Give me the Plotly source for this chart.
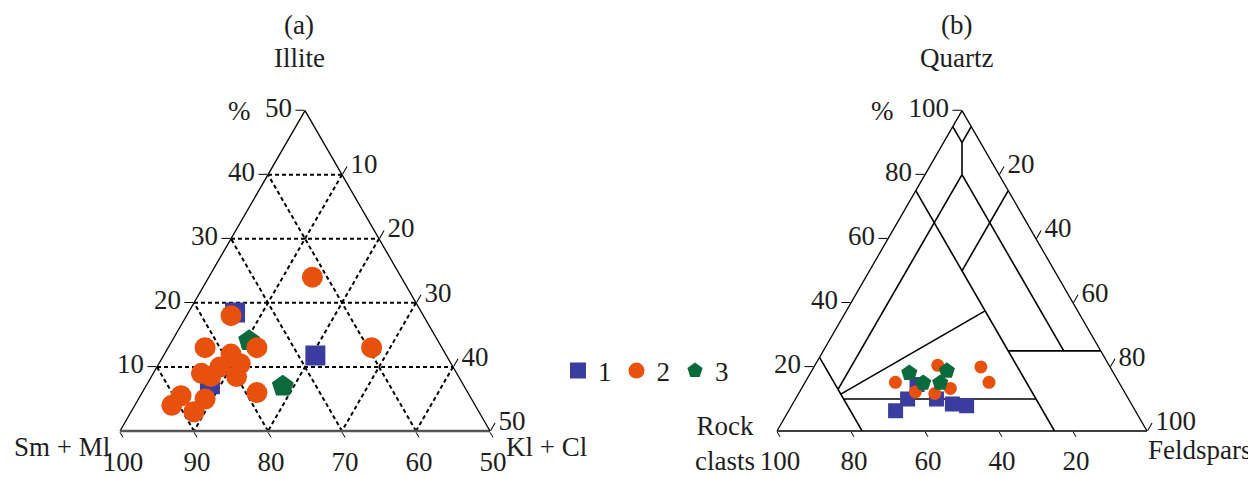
import math
import plotly.graph_objects as go

# ---------------- (a) clay minerals: Illite / Sm+Ml / Kl+Cl (%) ----------------
illite_g1 = [18.5, 11.8, 7.3]
smml_g1 = [75.2, 67.7, 84.2]
klcl_g1 = [6.3, 20.5, 8.5]

illite_g2 = [24.0, 18.0, 13.0, 13.0, 12.0, 10.5, 10.0, 9.0, 8.5, 8.5, 6.0, 5.5, 4.0, 5.0, 3.0, 13.0]
smml_g2 = [62.0, 76.0, 82.0, 75.0, 79.0, 78.5, 81.5, 84.5, 83.5, 80.0, 78.5, 89.0, 91.0, 86.0, 88.5, 59.5]
klcl_g2 = [14.0, 6.0, 5.0, 12.0, 9.0, 11.0, 8.5, 6.5, 8.0, 11.5, 15.5, 5.5, 5.0, 9.0, 8.5, 27.5]

illite_g3 = [14.1, 7.0]
smml_g3 = [75.5, 74.5]
klcl_g3 = [10.4, 18.5]

# ---------------- (b) sandstones: Quartz / Rock clasts / Feldspars (%) ----------------
quartz_g1 = [6.3, 10.0, 14.5, 10.0, 8.4, 7.9]
rock_g1 = [64.8, 59.7, 54.9, 51.9, 48.4, 44.8]
feld_g1 = [28.9, 30.3, 30.6, 38.1, 43.2, 47.3]

quartz_g2 = [15.2, 12.2, 20.5, 11.7, 13.3, 20.0, 15.2]
rock_g2 = [60.4, 56.5, 46.3, 51.5, 46.5, 34.9, 35.1]
feld_g2 = [24.4, 31.3, 33.2, 36.8, 40.2, 45.1, 49.7]

quartz_g3 = [18.1, 15.0, 18.8, 15.0]
rock_g3 = [55.2, 53.0, 44.7, 48.4]
feld_g3 = [26.7, 32.0, 36.5, 36.6]

# classification boundaries of panel (b): segment endpoints (Q, R, F)
class_q = [[95, 90], [95, 90], [90, 80], [80, 13], [80, 25], [75, 0], [75, 50], [23, 0], [11.5, 37.5], [10, 10], [25, 25]]
class_r = [[5, 5], [0, 5], [5, 10], [10, 77], [10, 10], [25, 25], [0, 25], [77, 77], [77, 25], [77, 25], [25, 0]]
class_f = [[0, 5], [5, 5], [5, 10], [10, 10], [10, 65], [0, 75], [25, 25], [0, 23], [11.5, 37.5], [13, 65], [50, 75]]

# tick labels
ticks_a_illite = [10, 20, 30, 40, 50]
ticks_a_smml = [50, 60, 70, 80, 90, 100]
ticks_a_klcl = [10, 20, 30, 40, 50]
ticks_b = [20, 40, 60, 80, 100]

legend_names = ["1", "2", "3"]

# ---------------- styling ----------------
BLUE = "#3A3C9F"
ORANGE = "#E8500D"
GREEN = "#0B6A3B"
INK = "#1e1e1e"
FONT = "Liberation Serif"
FS = 27

PAGE_OFF = 8            # default body margin of the html page
W, H = 1248, 469        # figure fills the 1256x477 window after the page margin
side = 370
tri_h = side * math.sqrt(3) / 2
base_y = 431            # screen px
apex_y = base_y - tri_h
cx_a, cx_b = 305, 962   # screen px


def px(sx):
    return (sx - PAGE_OFF) / W


def py(sy):
    return 1 - (sy - PAGE_OFF) / H


fig = go.Figure()

# panel (a) markers
fig.add_trace(go.Scatterternary(a=illite_g1, b=smml_g1, c=klcl_g1, subplot="ternary", mode="markers",
                                name=legend_names[0], legendrank=1,
                                marker=dict(symbol="square", size=20, color=BLUE, line=dict(width=0))))
fig.add_trace(go.Scatterternary(a=illite_g3, b=smml_g3, c=klcl_g3, subplot="ternary", mode="markers",
                                name=legend_names[2], legendrank=3,
                                marker=dict(symbol="pentagon", size=23, color=GREEN, line=dict(width=0))))
fig.add_trace(go.Scatterternary(a=illite_g2, b=smml_g2, c=klcl_g2, subplot="ternary", mode="markers",
                                name=legend_names[1], legendrank=2,
                                marker=dict(symbol="circle", size=21, color=ORANGE, line=dict(width=0))))

# panel (b) classification lines
for q, r, f in zip(class_q, class_r, class_f):
    fig.add_trace(go.Scatterternary(a=q, b=r, c=f, subplot="ternary2", mode="lines",
                                    line=dict(color="black", width=1.6), showlegend=False,
                                    hoverinfo="skip"))

# panel (b) markers
fig.add_trace(go.Scatterternary(a=quartz_g1, b=rock_g1, c=feld_g1, subplot="ternary2", mode="markers",
                                showlegend=False,
                                marker=dict(symbol="square", size=15, color=BLUE, line=dict(width=0))))
fig.add_trace(go.Scatterternary(a=quartz_g2, b=rock_g2, c=feld_g2, subplot="ternary2", mode="markers",
                                showlegend=False,
                                marker=dict(symbol="circle", size=13, color=ORANGE, line=dict(width=0))))
fig.add_trace(go.Scatterternary(a=quartz_g3, b=rock_g3, c=feld_g3, subplot="ternary2", mode="markers",
                                showlegend=False,
                                marker=dict(symbol="pentagon", size=17, color=GREEN, line=dict(width=0))))


def axis(tickvals, mn, grid, lc="black", lw=1.3, tl=9):
    d = dict(min=mn, tickmode="array", tickvals=tickvals, ticks="outside", ticklen=tl,
             tickwidth=1.2, tickcolor="black", linecolor=lc, linewidth=lw, showline=True,
             tickfont=dict(family=FONT, size=FS, color=INK), title=dict(text=""),
             showgrid=grid)
    if grid:
        d.update(gridcolor="black", gridwidth=1.6, griddash="4px,3px")
    return d


dom_y = [py(base_y), py(apex_y)]
half = 0.16
fig.update_layout(
    width=W, height=H,
    margin=dict(l=0, r=0, t=0, b=0),
    paper_bgcolor="white",
    font=dict(family=FONT, size=FS, color=INK),
    ternary=dict(
        domain=dict(x=[px(cx_a) - half, px(cx_a) + half], y=dom_y),
        sum=100, bgcolor="white",
        aaxis=axis(ticks_a_illite, 0, True),
        baxis=axis(ticks_a_smml, 50, True, lc="#555555", lw=2.4, tl=6),
        caxis=axis(ticks_a_klcl, 0, True),
    ),
    ternary2=dict(
        domain=dict(x=[px(cx_b) - half, px(cx_b) + half], y=dom_y),
        sum=100, bgcolor="white",
        aaxis=axis(ticks_b, 0, False),
        baxis=axis(ticks_b, 0, False, tl=6),
        caxis=axis(ticks_b, 0, False),
    ),
    legend=dict(orientation="h", x=px(558), y=py(371), xanchor="left", yanchor="middle",
                font=dict(family=FONT, size=FS, color=INK), bgcolor="rgba(0,0,0,0)",
                itemwidth=30, traceorder="normal"),
    showlegend=True,
)


def note(text, sx, sy, xanchor="center"):
    fig.add_annotation(text=text, x=px(sx), y=py(sy), xref="paper", yref="paper",
                       showarrow=False, xanchor=xanchor, yanchor="middle",
                       font=dict(family=FONT, size=FS, color=INK))


left_a = cx_a - side / 2
right_a = cx_a + side / 2
left_b = cx_b - side / 2
right_b = cx_b + side / 2

note("(a)", cx_a - 6, 25)
note("Illite", cx_a - 6, 58)
note("%", cx_a - 66, apex_y)
note("Sm + Ml", left_a - 8, 447, "right")
note("Kl + Cl", right_a + 14, 447, "left")

note("(b)", cx_b - 6, 25)
note("Quartz", cx_b - 6, 58)
note("%", cx_b - 79, apex_y)
note("Rock<br>clasts", left_b - 52, 443)
note("Feldspars", right_b - 1, 450, "left")

fig.write_html("out.html")
